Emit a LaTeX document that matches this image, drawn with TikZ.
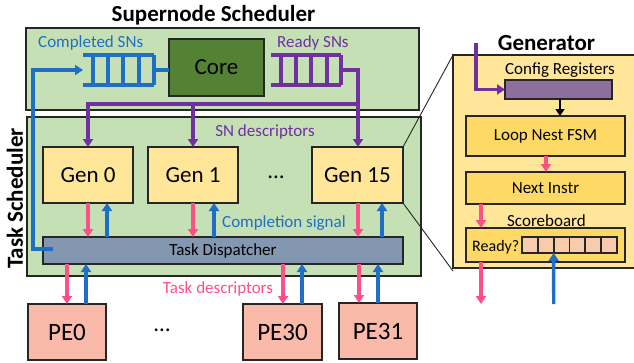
\documentclass[tikz,border=0pt]{standalone}
\usepackage{fontspec}
\setmainfont{Carlito}
\usetikzlibrary{arrows.meta,calc}
\definecolor{pale}{HTML}{C5E0B4}
\definecolor{coregreen}{HTML}{548235}
\definecolor{genyellow}{HTML}{FFE699}
\definecolor{gold}{HTML}{FFD966}
\definecolor{slate}{HTML}{8497B0}
\definecolor{salmon}{HTML}{F9BAAA}
\definecolor{peach}{HTML}{F8CBAD}
\definecolor{mauve}{HTML}{8D6E9C}
\definecolor{pinkline}{HTML}{FF4F87}
\definecolor{blueline}{HTML}{1F6FC4}
\definecolor{purpleline}{HTML}{7030A0}
\definecolor{edge}{HTML}{262626}
\newcommand{\fs}[1]{\fontsize{#1}{#1}\selectfont}
\tikzset{
  box/.style={draw=edge, line width=1.8pt, inner sep=0pt, outer sep=0pt},
  tip/.style={-{Triangle[width=10pt,length=8pt]}},
  pk/.style={tip, draw=pinkline, line width=3.4pt},
  bl/.style={tip, draw=blueline, line width=3.4pt},
  pu/.style={draw=purpleline, line width=3.4pt},
  bq/.style={draw=blueline, line width=3.4pt},
  lbl/.style={inner sep=0pt, font=\fs{17}},
  title/.style={inner sep=0pt, font=\fs{23}\bfseries},
}
\begin{document}
\begin{tikzpicture}[x=1pt, y=-1pt]
\useasboundingbox (0,0) rectangle (634,362);

% ---- supernode scheduler ----
\node[title, anchor=base] (snt) at (213.5,21) {Supernode Scheduler};
\node[box, fill=pale, minimum width=393, minimum height=82] (sn) at (222.5,69) {};
\node[box, fill=coregreen, minimum width=95, minimum height=57, font=\fs{23}] (core) at (216.5,67.5) {Core};
\node[lbl, anchor=base west, text=blueline] (cpl) at (38,47) {Completed SNs};
\node[lbl, anchor=base west, text=purpleline] (rdy) at (277,47) {Ready SNs};

% completed queue (blue)
\coordinate (bqin) at (83,70);
\coordinate (bqout) at (154,70);
\draw[bq] (83,55) -- (154,55) (83,85) -- (154,85);
\foreach \x in {93,108,123,139,154} \draw[bq] (\x,55) -- (\x,85);
\draw[bq] (bqout) -- (bqout -| core.west);

% ready queue (purple)
\coordinate (pqout) at (341,70);
\draw[pu] (271,55) -- (341,55) (271,85) -- (341,85);
\foreach \x in {281,296,311,327,341} \draw[pu] (\x,55) -- (\x,85);

% ---- task scheduler ----
\node[box, fill=pale, minimum width=394, minimum height=159] (ts) at (224,196.5) {};
\node[title, rotate=90] (tst) at (15,198.5) {Task Scheduler};
\node[lbl, anchor=base, text=purpleline] (snd) at (265,136) {SN descriptors};

\node[box, fill=genyellow, minimum width=90, minimum height=56, font=\fs{23}] (gen0) at (88,175) {Gen 0};
\node[box, fill=genyellow, minimum width=90, minimum height=56, font=\fs{23}] (gen1) at (193,175) {Gen 1};
\node[box, fill=genyellow, minimum width=91, minimum height=56, font=\fs{23}] (gen15) at (357.5,175) {Gen 15};
\node[inner sep=0pt, font=\fs{23}] (gdots) at (276,177) {…};

\node[box, fill=slate, minimum width=360, minimum height=27, font=\fs{17}] (disp) at (223,250.5) {Task Dispatcher};
\node[lbl, anchor=base west, text=blueline] (cs) at (222,227) {Completion signal};

% ready SNs into the generators
\coordinate (pbus) at (358,104);
\draw[pu, line join=miter] (pqout) -- (pqout -| pbus) -- (pbus);
\draw[pu, tip] (pbus) -- (gen15.north -| pbus);
\draw[pu] ([xshift=1.7pt]pbus) -- (86.3,104);
\draw[pu, tip] (88,102.3) -- (gen0.north);
\draw[pu, tip] (193,104) -- (gen1.north);

% completed SNs back to the core
\draw[bl, line join=miter] ([xshift=10pt, yshift=1.5pt]disp.west) -- ++(-20,0) |- (bqin);

% generators <-> dispatcher
\foreach \g/\p/\b in {gen0/88/107, gen1/193/214, gen15/358/382}{
  \draw[pk] (\g.south -| \p,0) -- (disp.north -| \p,0);
  \draw[bl] (disp.north -| \b,0) -- (\g.south -| \b,0);
}

% ---- processing elements ----
\node[box, fill=salmon, minimum width=78, minimum height=56, font=\fs{25}] (pe0) at (67,332) {PE0};
\node[box, fill=salmon, minimum width=79, minimum height=56, font=\fs{25}] (pe30) at (282.5,332) {PE30};
\node[box, fill=salmon, minimum width=78, minimum height=56, font=\fs{25}] (pe31) at (378,331) {PE31};
\node[inner sep=0pt, font=\fs{23}] (pdots) at (162,330) {…};
\node[lbl, anchor=base, text=pinkline] (tdl) at (218,293) {Task descriptors};

\foreach \e/\p/\b in {pe0/67/86, pe30/283/302, pe31/359/378}{
  \draw[pk] (disp.south -| \p,0) -- (\e.north -| \p,0);
  \draw[bl] (\e.north -| \b,0) -- (disp.south -| \b,0);
}

% ---- generator detail ----
\node[box, fill=genyellow, minimum width=182, minimum height=213] (gbox) at (544,161.5) {};
\node[title, anchor=base] (gt) at (546.5,50) {Generator};
\draw[edge, line width=0.9pt] (gen15.north east) -- (gbox.north west);
\draw[edge, line width=0.9pt] (gen15.south east) -- ([yshift=-3pt]gbox.south west);

\node[lbl, anchor=base] (cfgt) at (560,74) {Config Registers};
\node[box, fill=mauve, minimum width=107, minimum height=19] (cfg) at (558.5,89.5) {};
\node[box, fill=gold, minimum width=159, minimum height=40, font=\fs{17}] (loop) at (545.5,136) {Loop Nest FSM};
\node[box, fill=gold, minimum width=159, minimum height=32, font=\fs{17}] (next) at (545.5,188) {Next Instr};
\node[lbl, anchor=base] (sbt) at (546.5,226) {Scoreboard};
\node[box, fill=gold, minimum width=159, minimum height=34] (sb) at (545.5,245) {};
\node[lbl, anchor=base west, font=\fs{16}] (rq) at (472,251) {Ready?};
\foreach \i in {0,...,5}
  \node[box, fill=peach, minimum width=15.83, minimum height=16, anchor=north west] (c\i) at (522+\i*15.83,237) {};

\coordinate (gin) at (476,43);
\draw[pu, tip, line join=miter] (gin) |- (cfg.west);
\draw[-{Triangle[width=9pt,length=7pt]}, line width=2.4pt, draw=black] (cfg.south -| 560,0) -- (loop.north -| 560,0);
\draw[pk] (loop.south -| 546,0) -- (next.north -| 546,0);
\draw[pk] (next.south -| 481,0) -- (sb.north -| 481,0);
\coordinate (gout) at (481,304);
\coordinate (gback) at (553.7,304);
\draw[pk] (sb.south -| gout) -- (gout);
\draw[bl] (gback) -- (c1.south east);
\end{tikzpicture}
\end{document}
